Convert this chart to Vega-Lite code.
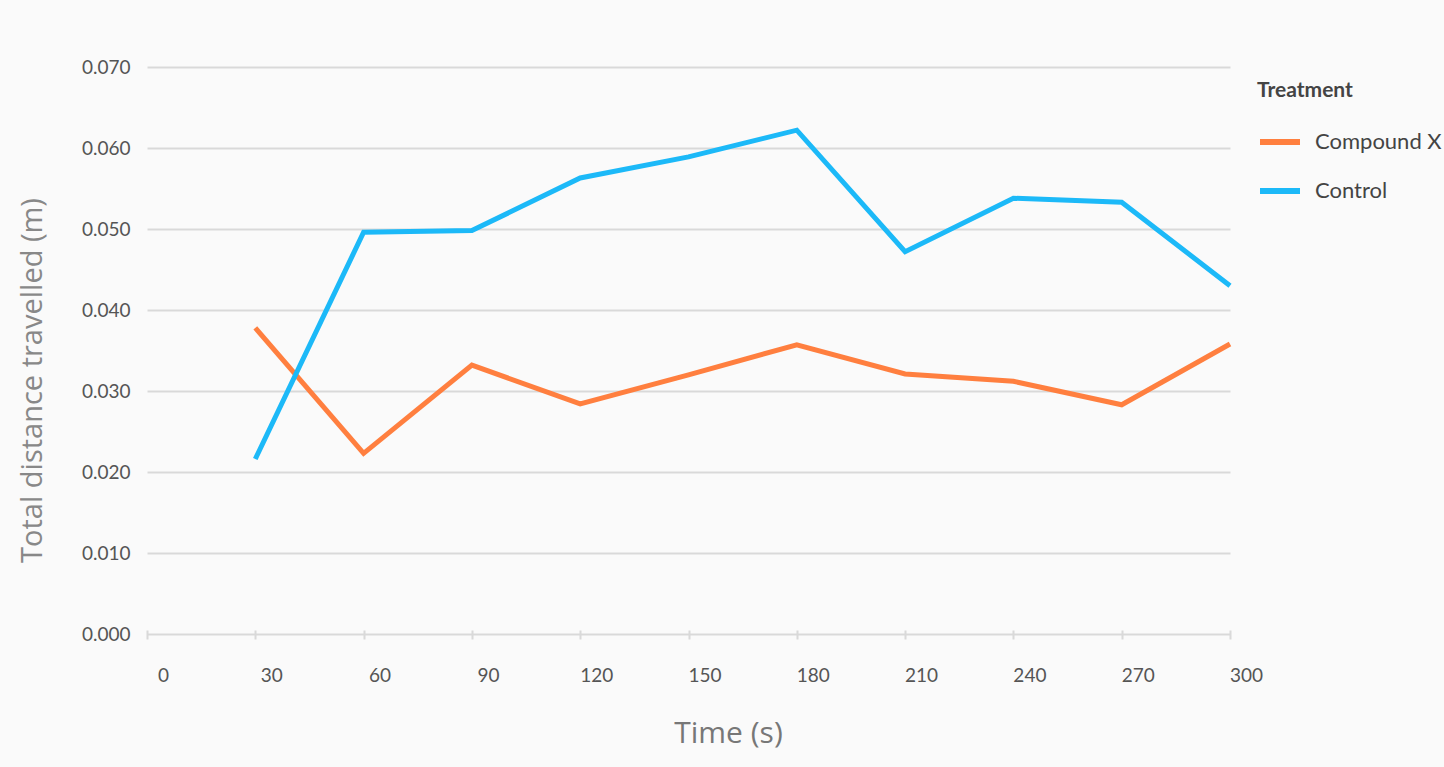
{
  "$schema": "https://vega.github.io/schema/vega-lite/v6.json",
  "width": 1083,
  "height": 567,
  "autosize": {"type": "none"},
  "padding": {"left": 147, "top": 67, "right": 214, "bottom": 133},
  "background": "#fafafa",
  "config": {
    "view": {"stroke": null},
    "font": "Lato"
  },
  "data": {
    "values": [
      {"time": 30, "treatment": "Compound X", "distance": 0.0378},
      {"time": 60, "treatment": "Compound X", "distance": 0.0223},
      {"time": 90, "treatment": "Compound X", "distance": 0.0332},
      {"time": 120, "treatment": "Compound X", "distance": 0.0284},
      {"time": 150, "treatment": "Compound X", "distance": 0.0320},
      {"time": 180, "treatment": "Compound X", "distance": 0.0357},
      {"time": 210, "treatment": "Compound X", "distance": 0.0321},
      {"time": 240, "treatment": "Compound X", "distance": 0.0312},
      {"time": 270, "treatment": "Compound X", "distance": 0.0283},
      {"time": 300, "treatment": "Compound X", "distance": 0.0358},
      {"time": 30, "treatment": "Control", "distance": 0.0216},
      {"time": 60, "treatment": "Control", "distance": 0.0496},
      {"time": 90, "treatment": "Control", "distance": 0.0498},
      {"time": 120, "treatment": "Control", "distance": 0.0563},
      {"time": 150, "treatment": "Control", "distance": 0.0589},
      {"time": 180, "treatment": "Control", "distance": 0.0622},
      {"time": 210, "treatment": "Control", "distance": 0.0472},
      {"time": 240, "treatment": "Control", "distance": 0.0538},
      {"time": 270, "treatment": "Control", "distance": 0.0533},
      {"time": 300, "treatment": "Control", "distance": 0.0430}
    ]
  },
  "mark": {"type": "line", "strokeWidth": 5, "strokeCap": "butt", "strokeJoin": "miter"},
  "encoding": {
    "x": {
      "field": "time",
      "type": "quantitative",
      "scale": {"domain": [0, 300], "nice": false, "zero": true},
      "axis": {
        "values": [0, 30, 60, 90, 120, 150, 180, 210, 240, 270, 300],
        "title": "Time (s)",
        "titleFont": "Open Sans",
        "titleFontSize": 30,
        "titleFontWeight": "normal",
        "titleColor": "#777777",
        "titleX": 581,
        "titleY": 103,
        "titleBaseline": "middle",
        "domain": false,
        "grid": false,
        "offset": -4,
        "ticks": true,
        "tickSize": 9,
        "tickWidth": 2,
        "tickColor": "#d9d9d9",
        "labelFont": "Lato",
        "labelFontSize": 19,
        "labelColor": "#555555",
        "labelOffset": 16,
        "labelPadding": 27,
        "labelFlush": false
      }
    },
    "y": {
      "field": "distance",
      "type": "quantitative",
      "scale": {"domain": [0, 0.07], "nice": false},
      "axis": {
        "values": [0, 0.01, 0.02, 0.03, 0.04, 0.05, 0.06, 0.07],
        "format": ".3f",
        "title": "Total distance travelled (m)",
        "titleFont": "Open Sans",
        "titleFontSize": 29,
        "titleFontWeight": "normal",
        "titleColor": "#888888",
        "titleX": -115,
        "titleY": 313,
        "titleAngle": -90,
        "titleBaseline": "middle",
        "domain": false,
        "ticks": false,
        "grid": true,
        "gridColor": "#d9d9d9",
        "gridWidth": 2,
        "labelFont": "Lato",
        "labelFontSize": 19,
        "labelColor": "#555555",
        "labelPadding": 17
      }
    },
    "color": {
      "field": "treatment",
      "type": "nominal",
      "scale": {"domain": ["Compound X", "Control"], "range": ["#ff7f3f", "#1cb9f8"]},
      "legend": {
        "title": "Treatment",
        "orient": "none",
        "legendX": 1110,
        "legendY": 13,
        "titleFont": "Lato",
        "titleFontSize": 21,
        "titleFontWeight": "bold",
        "titleColor": "#444444",
        "titlePadding": 18,
        "labelFont": "Lato",
        "labelFontSize": 22,
        "labelColor": "#444444",
        "labelOffset": 12,
        "symbolType": "stroke",
        "symbolStrokeWidth": 6,
        "symbolSize": 1600,
        "rowPadding": 14
      }
    }
  }
}
